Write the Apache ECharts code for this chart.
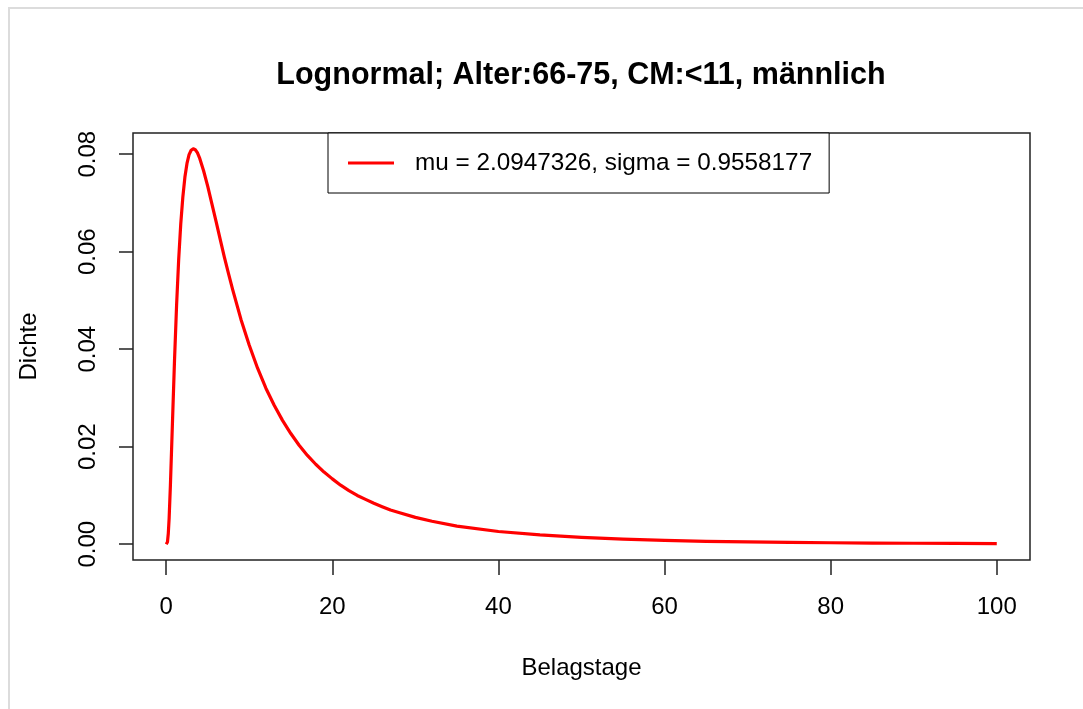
<!DOCTYPE html>
<html>
<head>
<meta charset="utf-8">
<script src="https://cdn.jsdelivr.net/npm/echarts@6/dist/echarts.min.js"></script>
<style>
html,body{margin:0;padding:0;background:#fff;}
#c{width:1083px;height:709px;}
</style>
</head>
<body>
<div id="c"></div>
<script>
// Values (Belagstage, Dichte)
var belagstage = [0, 0.15, 0.25, 0.35, 0.5, 0.75, 1, 1.25, 1.5, 1.75, 2, 2.25, 2.5, 2.75, 3, 3.25, 3.5, 3.75, 4, 4.5, 5, 5.5, 6, 6.5, 7, 7.5, 8, 9, 10, 11, 12, 13, 14, 15, 16, 17, 18, 19, 20, 21, 22, 23, 24, 25, 26, 27, 28, 30, 32, 35, 40, 45, 50, 55, 60, 65, 70, 75, 80, 85, 90, 95, 100];
var dichte = [0, 0.00045, 0.0022, 0.0053, 0.0119, 0.0249, 0.0378, 0.0491, 0.0584, 0.0657, 0.0712, 0.0753, 0.0781, 0.0799, 0.0808, 0.0811, 0.0809, 0.0803, 0.0793, 0.0766, 0.0734, 0.0698, 0.0662, 0.0625, 0.0589, 0.0555, 0.0522, 0.0461, 0.0408, 0.0361, 0.0320, 0.0285, 0.0254, 0.0227, 0.0203, 0.0182, 0.0164, 0.0148, 0.0134, 0.0121, 0.0110, 0.0100, 0.0092, 0.0084, 0.0077, 0.0070, 0.0065, 0.0055, 0.0047, 0.0037, 0.0026, 0.0019, 0.0014, 0.00103, 0.0008, 0.0006, 0.00047, 0.00037, 0.0003, 0.00024, 0.0002, 0.00016, 0.00013];
var xTicks = [0, 20, 40, 60, 80, 100];
var yTicks = [0, 0.02, 0.04, 0.06, 0.08];
var titleText = 'Lognormal; Alter:66-75, CM:<11, männlich';
var seriesName = 'mu = 2.0947326, sigma = 0.9558177';
var xName = 'Belagstage';
var yName = 'Dichte';

var pts = belagstage.map(function (x, i) { return [x, dichte[i]]; });
var FONT = 'Liberation Sans, Arial, sans-serif';

var chart = echarts.init(document.getElementById('c'), null, {renderer: 'canvas'});
chart.setOption({
  backgroundColor: '#fff',
  animation: false,
  title: {
    text: titleText,
    left: 576, top: 55, textAlign: 'center',
    textStyle: {fontFamily: FONT, fontSize: 30.5, fontWeight: 'bold', color: '#000'}
  },
  legend: {
    left: 328, top: 133,
    padding: [18, 17, 18, 20],
    borderColor: '#000', borderWidth: 1,
    backgroundColor: '#fff',
    itemWidth: 46, itemHeight: 3,
    data: [{name: seriesName, icon: 'rect'}],
    textStyle: {fontFamily: FONT, fontSize: 24.3, color: '#000', padding: [0, 0, 0, 16]}
  },
  grid: {
    left: 133, top: 133, width: 897, height: 427,
    show: true, borderColor: '#222', borderWidth: 1.5, backgroundColor: 'transparent'
  },
  xAxis: {
    type: 'value', min: -4, max: 104,
    name: xName, nameLocation: 'middle', nameGap: 96,
    nameTextStyle: {fontFamily: FONT, fontSize: 24, color: '#000'},
    axisLine: {show: false, onZero: false},
    splitLine: {show: false},
    axisTick: {show: true, inside: false, length: 15, lineStyle: {color: '#222', width: 1.5}, customValues: xTicks},
    axisLabel: {fontFamily: FONT, fontSize: 24, color: '#000', margin: 35, customValues: xTicks,
      formatter: function (v) { return String(v); }}
  },
  yAxis: {
    type: 'value', min: -0.00324, max: 0.08434,
    name: yName, nameLocation: 'middle', nameGap: 92, nameRotate: 90,
    nameTextStyle: {fontFamily: FONT, fontSize: 24, color: '#000'},
    axisLine: {show: false, onZero: false},
    splitLine: {show: false},
    axisTick: {show: true, inside: false, length: 14, lineStyle: {color: '#222', width: 1.5}, customValues: yTicks},
    axisLabel: {fontFamily: FONT, fontSize: 24, color: '#000', margin: 33, rotate: 90, customValues: yTicks,
      formatter: function (v) { return v.toFixed(2); }}
  },
  series: [{
    name: seriesName,
    type: 'line',
    data: pts,
    showSymbol: false,
    smooth: false,
    lineStyle: {color: '#ff0000', width: 3.2, join: 'round'},
    itemStyle: {color: '#ff0000'},
    z: 1
  }],
  graphic: [{
    type: 'rect',
    shape: {x: 9, y: 8, width: 1200, height: 800},
    style: {fill: 'none', stroke: '#dcdcdc', lineWidth: 2},
    silent: true
  }]
});
</script>
</body>
</html>
